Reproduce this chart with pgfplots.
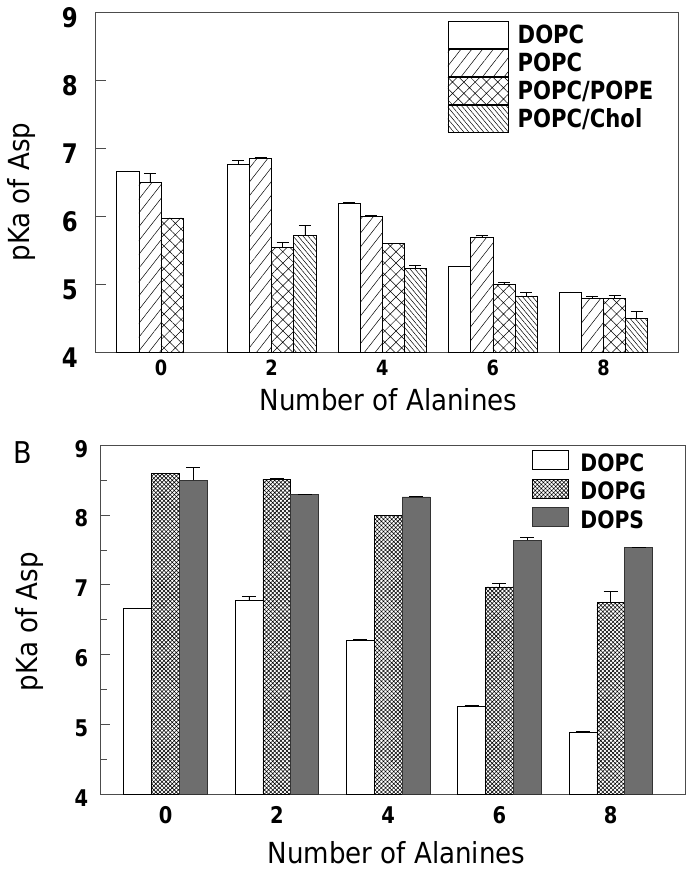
\documentclass[border=0pt]{standalone}
\usepackage{fontspec}
\setmainfont{DejaVu Sans Condensed}[BoldFont={DejaVu Sans Condensed Bold}, BoldFeatures={FakeStretch=0.94}]
\usepackage{pgfplots}
\pgfplotsset{compat=1.18}
\usetikzlibrary{patterns.meta}
\definecolor{dops}{gray}{0.43}
\definecolor{axgray}{gray}{0.3}
\pgfplotsset{
 topleg/.style={legend image code/.code={\draw[##1] (0pt,-5pt) rectangle (60pt,22.3pt);}},
 botleg/.style={legend image code/.code={\draw[##1] (0pt,1.7pt) rectangle (36pt,20.7pt);}},
 common/.style={
  scale only axis, anchor=south west, clip=false,
  ymin=4, ymax=9, ytick={4,5,6,7,8,9},
  xtick={0,2,4,6,8}, xtick style={draw=none},
  ytick pos=left, tick align=inside,
  axis line style={axgray, line width=0.8pt},
  tick style={axgray, line width=0.8pt},
  /pgf/number format/assume math mode=true,
  label style={font=\fontsize{29}{29}\selectfont},
  error bars/y dir=plus, error bars/y explicit,
  error bars/error bar style={black, line width=0.6pt},
  ybar,
 },
}
\begin{document}
\begin{tikzpicture}
\useasboundingbox (0,0) rectangle (695pt,874pt);
% ---------------- top panel ----------------
\begin{axis}[common,
 at={(95pt,521.7pt)},
 width=583pt, height=339.6pt,
 xmin=-1.193, xmax=9.347,
 bar width=0.4,
 major tick length=11pt,
 error bars/error mark options={rotate=90, mark size=6pt, line width=0.6pt, black},
 yticklabel style={font=\bfseries\fontsize{27}{27}\selectfont, inner sep=0pt, xshift=-17pt, yshift=-5pt},
 xticklabel style={font=\bfseries\fontsize{21}{21}\selectfont, inner sep=0pt, yshift=3.6pt},
 xlabel={Number of Alanines}, ylabel={pKa of Asp},
 xlabel style={at={(axis description cs:0.5034,-0.1706)}, anchor=base},
 ylabel style={at={(axis description cs:-0.1132,0.472)}, anchor=base},
 legend style={at={(axis description cs:0.6043,0.9756)}, anchor=north west, draw=none, fill=none,
   inner sep=0pt, row sep=0pt, column sep=9.6pt,
   font=\bfseries\fontsize{25}{25}\selectfont, nodes={anchor=base west, inner sep=0pt}},
]
\addplot[fill=white, draw=black, line width=0.6pt, bar shift=-0.6, topleg] coordinates {
 (0,6.66) +- (0,0.01) (2,6.77) +- (0,0.05) (4,6.20) +- (0,0.01) (6,5.26) +- (0,0.01) (8,4.88) +- (0,0.01)};
\addplot[pattern={Lines[angle=52,distance=8.5pt,line width=0.5pt]}, pattern color=black, draw=black, line width=0.6pt, bar shift=-0.2, topleg] coordinates {
 (0,6.50) +- (0,0.13) (2,6.86) +- (0,0.01) (4,6.00) +- (0,0.01) (6,5.70) +- (0,0.02) (8,4.79) +- (0,0.04)};
\addplot[pattern={Hatch[angle=45,distance=8pt,line width=0.5pt]}, pattern color=black, draw=black, line width=0.6pt, bar shift=0.2, topleg] coordinates {
 (0,5.98) +- (0,0) (2,5.55) +- (0,0.07) (4,5.60) +- (0,0) (6,5.00) +- (0,0.03) (8,4.79) +- (0,0.05)};
\addplot[pattern={Lines[angle=-50,distance=3.8pt,line width=0.5pt]}, pattern color=black, draw=black, line width=0.6pt, bar shift=0.6, topleg] coordinates {
 (2,5.72) +- (0,0.15) (4,5.23) +- (0,0.05) (6,4.83) +- (0,0.06) (8,4.50) +- (0,0.10)};
\legend{DOPC, POPC, POPC/POPE, POPC/Chol}
\end{axis}
% ---------------- bottom panel ----------------
\begin{axis}[common,
 at={(100.3pt,79.7pt)},
 width=584.7pt, height=349pt,
 xmin=-1.172, xmax=9.335,
 bar width=0.5,
 major tick length=10pt, minor tick length=7pt,
 minor ytick={4.5,5.5,6.5,7.5,8.5},
 error bars/error mark options={rotate=90, mark size=7pt, line width=0.6pt, black},
 yticklabel style={font=\bfseries\fontsize{23}{23}\selectfont, inner sep=0pt, xshift=-12pt, yshift=-3.5pt},
 xticklabel style={font=\bfseries\fontsize{23}{23}\selectfont, inner sep=0pt, yshift=-2.2pt},
 xlabel={Number of Alanines}, ylabel={pKa of Asp},
 xlabel style={at={(axis description cs:0.5068,-0.1997)}, anchor=base},
 ylabel style={at={(axis description cs:-0.1077,0.4946)}, anchor=base},
 legend style={at={(axis description cs:0.7378,0.9865)}, anchor=north west, draw=none, fill=none,
   inner sep=0pt, row sep=6pt, column sep=12pt,
   font=\bfseries\fontsize{24}{24}\selectfont, nodes={anchor=base west, inner sep=0pt}},
]
\addplot[fill=white, draw=black, line width=0.6pt, bar shift=-0.5, botleg] coordinates {
 (0,6.66) +- (0,0.01) (2,6.78) +- (0,0.05) (4,6.21) +- (0,0.01) (6,5.26) +- (0,0.01) (8,4.89) +- (0,0.01)};
\addplot[pattern={Hatch[angle=45,distance=2.9pt,line width=0.55pt]}, pattern color=black, draw=black, line width=0.6pt, bar shift=0, botleg] coordinates {
 (0,8.60) +- (0,0) (2,8.51) +- (0,0.01) (4,7.99) +- (0,0) (6,6.97) +- (0,0.06) (8,6.75) +- (0,0.16)};
\addplot[fill=dops, draw=black!80, line width=0.6pt, bar shift=0.5, botleg] coordinates {
 (0,8.50) +- (0,0.18) (2,8.30) +- (0,0) (4,8.26) +- (0,0.01) (6,7.64) +- (0,0.04) (8,7.54) +- (0,0)};
\legend{DOPC, DOPG, DOPS}
\node[anchor=base west, inner sep=0pt, font=\fontsize{30}{30}\selectfont] at (axis description cs:-0.1487,0.9484) {B};
\end{axis}
\end{tikzpicture}
\end{document}
